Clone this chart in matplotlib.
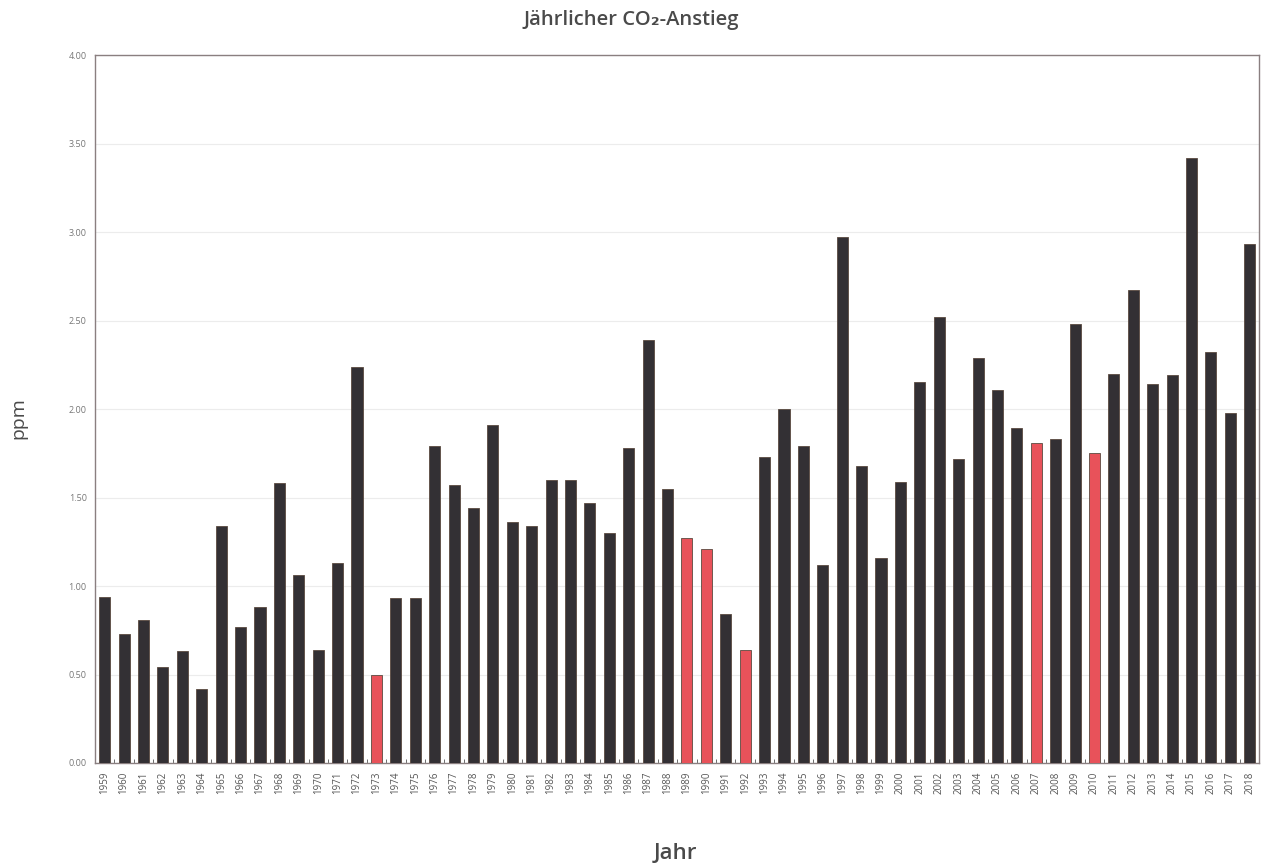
import numpy as np
import matplotlib
matplotlib.use('Agg')
import matplotlib.pyplot as plt

plt.rcParams['font.family'] = ['Open Sans', 'DejaVu Sans']

### data
years = list(range(1959, 2019))
ppm = [0.94, 0.73, 0.81, 0.54, 0.63, 0.42, 1.34, 0.77, 0.88, 1.58,
       1.06, 0.64, 1.13, 2.24, 0.50, 0.93, 0.93, 1.79, 1.57, 1.44,
       1.91, 1.36, 1.34, 1.60, 1.60, 1.47, 1.30, 1.78, 2.39, 1.55,
       1.27, 1.21, 0.84, 0.64, 1.73, 2.00, 1.79, 1.12, 2.97, 1.68,
       1.16, 1.59, 2.15, 2.52, 1.72, 2.29, 2.11, 1.89, 1.81, 1.83,
       2.48, 1.75, 2.20, 2.67, 2.14, 2.19, 3.42, 2.32, 1.98, 2.93]
red_years = [1973, 1989, 1990, 1992, 2007, 2010]

dark = '#333034'
red = '#e8525a'
colors = [red if y in red_years else dark for y in years]

### plot
fig = plt.figure(figsize=(12.62, 8.64), dpi=100)
ax = fig.add_axes([0.0753, 0.1169, 0.9227, 0.8194])

x = np.arange(len(years))
ax.bar(x, ppm, width=0.57, color=colors, edgecolor='#5a4a40', linewidth=0.6, zorder=3)

ax.set_xlim(-0.5, len(years) - 0.5)
ax.set_ylim(0, 4)
ax.set_yticks(np.arange(0, 4.01, 0.5))
ax.set_yticklabels(['%.2f' % v for v in np.arange(0, 4.01, 0.5)], fontsize=6.5, color='#777777')
ax.set_xticks(x)
ax.set_xticklabels([str(y) for y in years], rotation=90, fontsize=7, color='#555555')
ax.tick_params(axis='both', length=0, pad=6)
ax.set_xticks(np.arange(-0.5, len(years), 1), minor=True)
ax.tick_params(axis='x', which='minor', direction='in', length=3, color='#555555')

ax.grid(axis='y', color='#ececec', linewidth=0.8, zorder=0)
for s in ax.spines.values():
    s.set_color('#8a7f80')
    s.set_linewidth(1.0)

fig.text(0.5, 0.977, 'Jährlicher CO₂-Anstieg', ha='center', va='center', fontsize=14.5,
         fontweight='semibold', color='#4a4a4a')
fig.text(0.0145, 0.516, 'ppm', rotation=90, ha='center', va='center', fontsize=14, color='#4a4a4a')
fig.text(0.535, 0.012, 'Jahr', ha='center', va='center', fontsize=16, fontweight='semibold', color='#4a4a4a')

fig.savefig('out.png', dpi=100)
